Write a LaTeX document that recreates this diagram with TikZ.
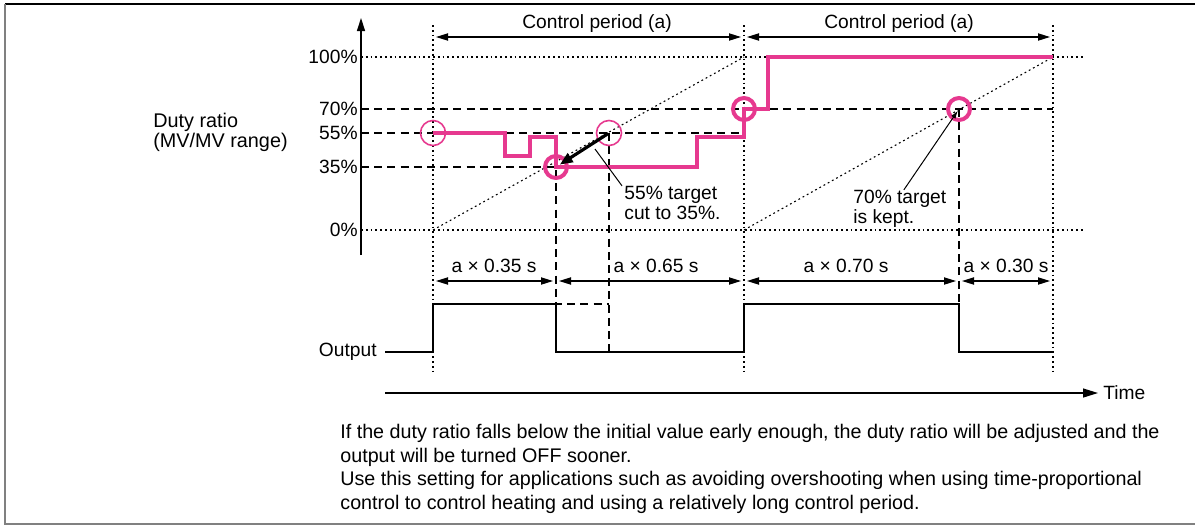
\documentclass[tikz,border=0pt]{standalone}
\usepackage{fontspec}
\setmainfont{Liberation Sans}
\usetikzlibrary{arrows.meta}
\definecolor{dutypink}{HTML}{E6398F}
\definecolor{framegray}{HTML}{808080}

\begin{document}
\begin{tikzpicture}[
  x=0.5pt, y=-0.5pt,
  font=\fontsize{9.6}{10}\selectfont,
  lbl/.style={inner sep=0pt, align=left},
  guide/.style={line width=0.55pt, dash pattern=on 0.9pt off 1.5pt},
  level/.style={line width=0.6pt, dash pattern=on 4pt off 2.6pt},
  trace/.style={dutypink, line width=2.1pt},
  ring/.style={circle, draw=dutypink, line width=0.8pt, minimum size=12.5pt, inner sep=0pt},
  bigring/.style={circle, draw=dutypink, line width=2pt, minimum size=11pt, inner sep=0pt},
  dim/.style={{Triangle[length=6pt,width=3.6pt]}-{Triangle[length=6pt,width=3.6pt]}, line width=0.6pt},
  wave/.style={line width=0.65pt}
]
\useasboundingbox (0,0) rectangle (1195,526);

% frame
\draw[line width=0.7pt] (5,4) -- (1195,4);
\draw[line width=0.9pt, framegray] (5,4) -- (5,524) -- (1195,524);

% axis and levels
\coordinate (ax0) at (361,255);
\coordinate (ax1) at (361,18);
\draw[line width=0.7pt, -{Triangle[length=6.5pt,width=4pt]}] (ax0) -- (ax1);
\foreach \v/\y in {100/57, 70/109, 55/133, 35/167, 0/230}
  \node[lbl, anchor=east] (p\v) at (358,\y) {\v\%};
\node[lbl, anchor=west, font=\fontsize{9.9}{10}\selectfont] (duty) at (153,132) {Duty ratio\\(MV/MV range)};

% dotted guides
\draw[guide] (361,57) -- (1085,57);
\draw[guide] (361,230) -- (1085,230);
\foreach \x in {433,744,1053}
  \draw[guide] (\x,25) -- (\x,372);
\draw[guide] (433,230) -- (744,57);
\draw[guide] (744,230) -- (1053,57);

% dashed levels
\draw[level] (361,109) -- (1053,109);
\draw[level] (361,133) -- (744,133);
\draw[level] (361,167) -- (556,167) -- (556,304) -- (609,304);
\draw[level] (609,133) -- (609,352);
\draw[level] (959,109) -- (959,304);

% control periods
\draw[dim] (436,37) -- (741,37);
\draw[dim] (747,37) -- (1050,37);
\node (cp1) at (597,24) {Control period (a)};
\node (cp2) at (899,24) {Control period (a)};

% duty ratio trace
\draw[trace] (433,133) -- (505,133) -- (505,156) -- (530,156) -- (530,137)
  -- (556,137) -- (556,167) -- (697,167) -- (697,137) -- (744,137)
  -- (744,109) -- (768,109) -- (768,57) -- (1053,57);
\node[ring] (c0) at (433,133) {};
\node[ring] (c2) at (609,133) {};
\node[bigring] (c1) at (556,167) {};
\node[bigring] (c3) at (744,109) {};
\node[bigring] (c4) at (959,109) {};

% notes
\draw[line width=1.6pt, -{Triangle[length=6.5pt,width=5pt]}, shorten <=0.5pt, shorten >=2.2pt] (c2.center) -- (c1.center);
\node[lbl, anchor=west] (t55) at (624,203) {55\% target\\cut to 35\%.};
\coordinate (k55) at (595,149);
\draw[line width=0.5pt] ([xshift=-1pt]t55.north west) -- (k55);
\node[lbl, anchor=west] (t70) at (853,209) {70\% target\\is kept.};
\draw[line width=0.5pt, -{Latex[length=4pt,width=2.6pt]}, shorten >=1pt] ([xshift=2pt]t70.north) -- (c4.center);

% durations
\draw[dim] (436,281) -- (553,281);
\draw[dim] (559,281) -- (741,281);
\draw[dim] (747,281) -- (956,281);
\draw[dim] (962,281) -- (1050,281);
\node (d1) at (494,266) {a × 0.35 s};
\node (d2) at (656,266) {a × 0.65 s};
\node (d3) at (846,266) {a × 0.70 s};
\node (d4) at (1006,266) {a × 0.30 s};

% output
\node[lbl, anchor=east] (out) at (377,352) {Output};
\draw[wave] ([xshift=4pt]out.east) -- (433,352) -- (433,304) -- (556,304) -- (556,352)
  -- (744,352) -- (744,304) -- (959,304) -- (959,352) -- (1053,352);

% time axis
\coordinate (tm0) at (385,393);
\coordinate (tm1) at (1098,393);
\draw[wave, -{Triangle[length=7.5pt,width=4.5pt]}] (tm0) -- (tm1);
\node[lbl, anchor=west] (time) at (1103,393) {Time};

% explanation
\node[lbl, anchor=north west, font=\fontsize{9.85}{11.75}\selectfont] (expl) at (340,424)
  {If the duty ratio falls below the initial value early enough, the duty ratio will be adjusted and the\\
   output will be turned OFF sooner.\\
   Use this setting for applications such as avoiding overshooting when using time-proportional\\
   control to control heating and using a relatively long control period.};

\end{tikzpicture}
\end{document}
